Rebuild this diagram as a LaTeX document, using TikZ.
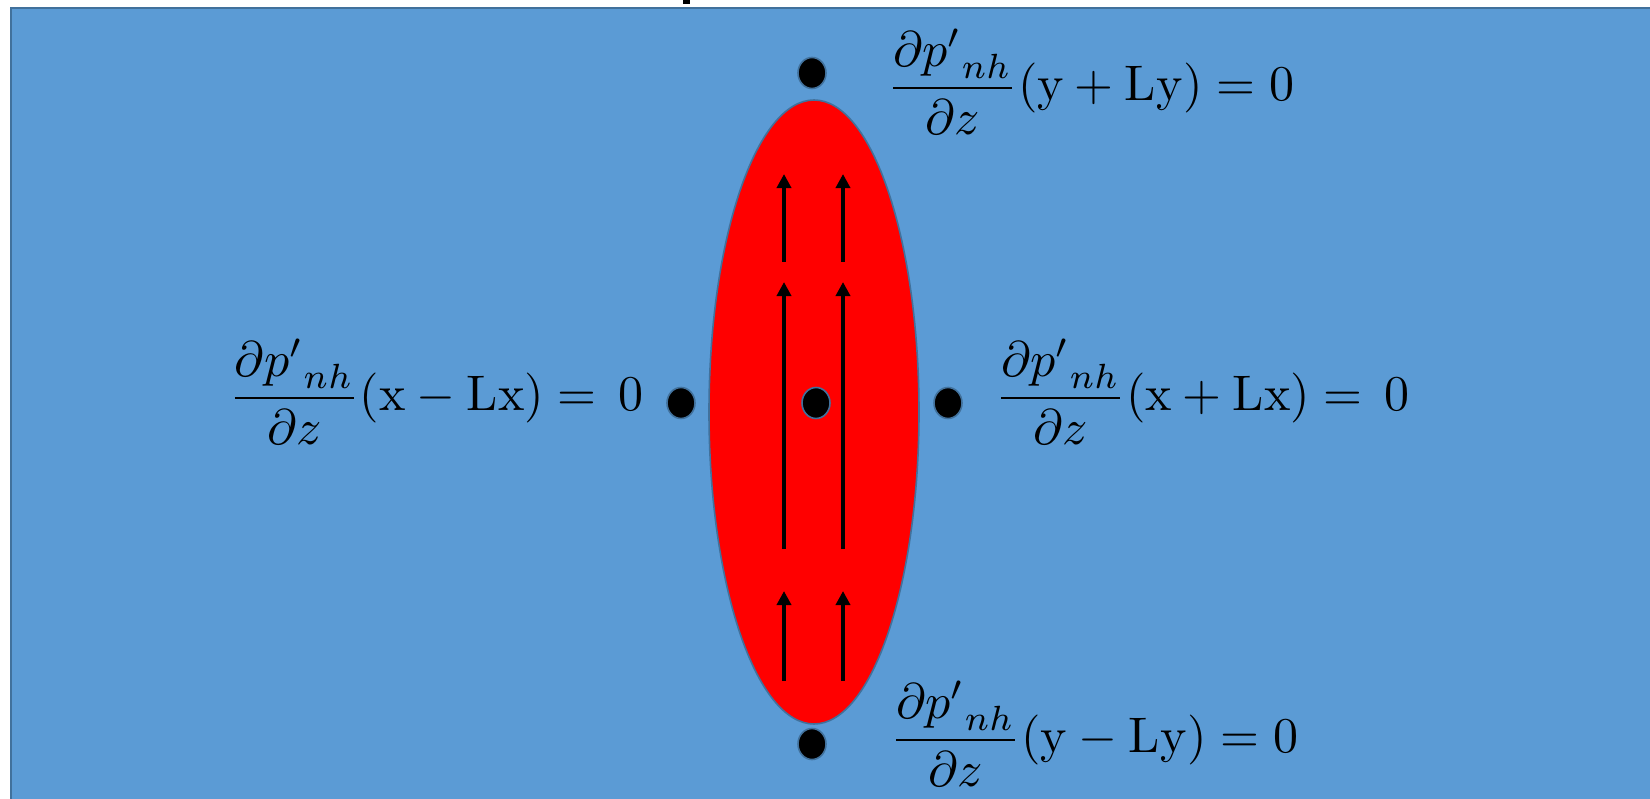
\documentclass[tikz,border=0pt]{standalone}
\usetikzlibrary{shapes.geometric,arrows.meta}
\definecolor{bgblue}{HTML}{5B9BD5}
\definecolor{edgeblue}{HTML}{41719C}
\definecolor{blobred}{HTML}{FF0000}
\tikzset{
  dot/.style={ellipse, fill=black, draw=edgeblue, line width=1.6pt, minimum width=28pt, minimum height=31pt, inner sep=0pt},
  eqlabel/.style={scale=5.0, inner sep=0pt, text=black},
  flowarrow/.style={line width=4.8pt, -{Triangle[length=5mm,width=5mm]}, black}
}
\begin{document}
\begin{tikzpicture}[x=1pt,y=-1pt]
\useasboundingbox (0,0) rectangle (1650,799);
\fill[white] (0,0) rectangle (1650,799);
\begin{scope}
\clip (0,0) rectangle (1650,799);
\fill[bgblue, draw=edgeblue, line width=2.5pt] (11,8) rectangle (1680,830);
\fill[black] (683,0) rectangle (690,4);
\end{scope}
% blob
\node[ellipse, fill=blobred, draw=edgeblue, line width=1.6pt, minimum width=210pt, minimum height=624pt, inner sep=0pt] (blob) at (814,412) {};
% arrows
\coordinate (a1s) at (784,262); \coordinate (a1e) at (784,174);
\coordinate (a2s) at (843,262); \coordinate (a2e) at (843,174);
\coordinate (b1s) at (784,549); \coordinate (b1e) at (784,282);
\coordinate (b2s) at (843,549); \coordinate (b2e) at (843,282);
\coordinate (c1s) at (784,681); \coordinate (c1e) at (784,591);
\coordinate (c2s) at (843,681); \coordinate (c2e) at (843,591);
\draw[flowarrow] (a1s) -- (a1e);
\draw[flowarrow] (a2s) -- (a2e);
\draw[flowarrow] (b1s) -- (b1e);
\draw[flowarrow] (b2s) -- (b2e);
\draw[flowarrow] (c1s) -- (c1e);
\draw[flowarrow] (c2s) -- (c2e);
% dots
\node[dot] (dtop) at (812,73) {};
\node[dot] (dbot) at (812,744) {};
\node[dot] (dleft) at (681,403) {};
\node[dot] (dright) at (948,403) {};
\node[dot] (dmid) at (816,403) {};
% labels
\node[eqlabel, anchor=west] (ltop) at (886,82) {$\displaystyle\frac{\partial {p'}_{nh}}{\partial z}(\mathrm{y}+\mathrm{Ly})=0$};
\node[eqlabel, anchor=west] (lbot) at (889,734) {$\displaystyle\frac{\partial {p'}_{nh}}{\partial z}(\mathrm{y}-\mathrm{Ly})=0$};
\node[eqlabel, anchor=east] (lleft) at (645,392) {$\displaystyle\frac{\partial {p'}_{nh}}{\partial z}(\mathrm{x}-\mathrm{Lx})=\,0$};
\node[eqlabel, anchor=west] (lright) at (994,392) {$\displaystyle\frac{\partial {p'}_{nh}}{\partial z}(\mathrm{x}+\mathrm{Lx})=\,0$};
\end{tikzpicture}
\end{document}
